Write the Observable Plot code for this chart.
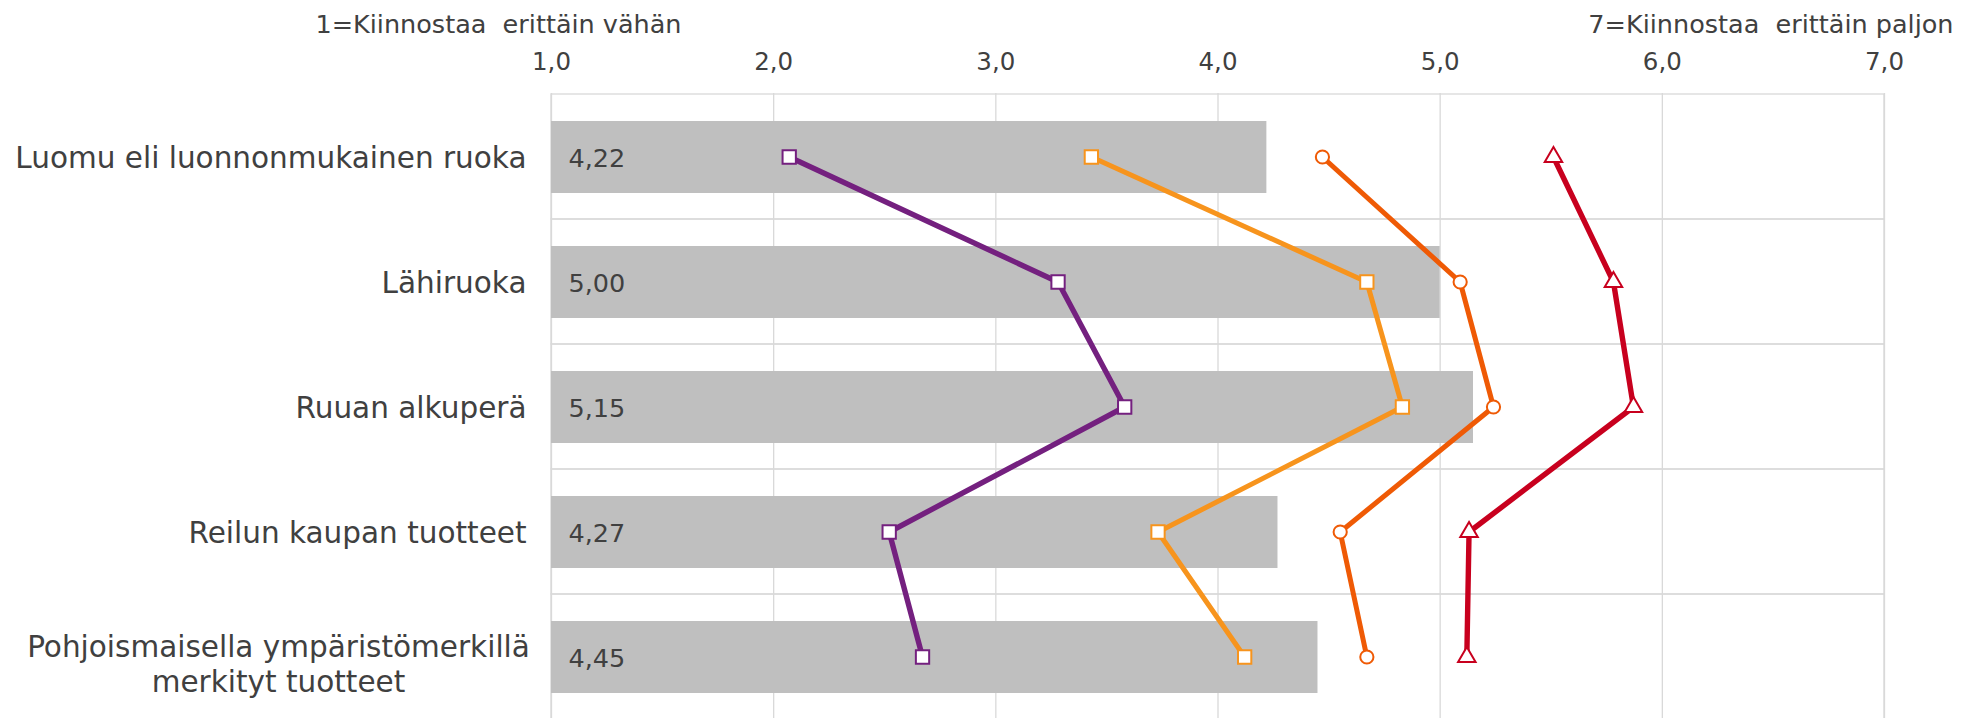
<!DOCTYPE html>
<html>
<head>
<meta charset="utf-8">
<script src="https://cdn.jsdelivr.net/npm/d3@7"></script>
<script src="https://cdn.jsdelivr.net/npm/@observablehq/plot@0.6"></script>
<style>
  html, body { margin: 0; padding: 0; background: #fff; overflow: hidden; }
  svg text { white-space: pre; }
</style>
</head>
<body>
<div id="chart"></div>
<script>
// ---- data ----
const categories = [
  "Luomu eli luonnonmukainen ruoka",
  "Lähiruoka",
  "Ruuan alkuperä",
  "Reilun kaupan tuotteet",
  "Pohjoismaisella ympäristömerkillä\nmerkityt tuotteet"
];
const barValues = [4.22, 5.00, 5.15, 4.27, 4.45];
const seriesNames = ["Sarja 1", "Sarja 2", "Sarja 3", "Sarja 4"];
const series1 = [2.07, 3.28, 3.58, 2.52, 2.67];
const series2 = [3.43, 4.67, 4.83, 3.73, 4.12];
const series3 = [4.47, 5.09, 5.24, 4.55, 4.67];
const series4 = [5.51, 5.78, 5.87, 5.13, 5.12];
const seriesValues = [series1, series2, series3, series4];
const xTicks = [1, 2, 3, 4, 5, 6, 7];
const lowLabel = "1=Kiinnostaa  erittäin vähän";
const highLabel = "7=Kiinnostaa  erittäin paljon";

// ---- styles ----
const seriesColors = ["#74207f", "#f7941d", "#ef5a05", "#c8001e"];
const seriesSymbols = ["square", "square", "circle", "triangle"];
const seriesR = [7.5, 7.5, 6.6, 6.5];
const seriesWidth = [5.4, 5, 5, 5.4];

const fmt1 = d => d.toFixed(1).replace(".", ",");
const fmt2 = d => d.toFixed(2).replace(".", ",");

const bars = categories.map((c, i) => ({cat: c, value: barValues[i]}));
const singleCats = categories.filter(c => !c.includes("\n"));
const multiCats = categories.filter(c => c.includes("\n"));

const seriesMarks = [];
seriesNames.forEach((s, si) => {
  const pts = categories.map((c, i) => ({series: s, cat: c, value: seriesValues[si][i]}));
  seriesMarks.push(Plot.line(pts, {x: "value", y: "cat", stroke: seriesColors[si], strokeWidth: seriesWidth[si], strokeLinejoin: "round"}));
});
seriesNames.forEach((s, si) => {
  const pts = categories.map((c, i) => ({series: s, cat: c, value: seriesValues[si][i]}));
  seriesMarks.push(Plot.dot(pts, {x: "value", y: "cat", symbol: () => seriesSymbols[si], stroke: seriesColors[si], fill: "white", strokeWidth: 2, r: seriesR[si]}));
});

const chart = Plot.plot({
  width: 1964,
  height: 720,
  marginTop: 93,
  marginBottom: 0,
  marginLeft: 551,
  marginRight: 80,
  style: {fontFamily: "'DejaVu Sans', Verdana, sans-serif", fontSize: "25px", color: "#404040", background: "#fff", overflow: "visible"},
  x: {domain: [1, 7], axis: null},
  y: {domain: categories, padding: 0, axis: null},
  symbol: {domain: ["square", "circle", "triangle"], range: ["square", "circle", "triangle"]},
  marks: [
    Plot.barX(categories, {y: d => d, x1: 1, x2: 7, fill: "none", stroke: "#d9d9d9", strokeWidth: 1.3}),
    Plot.ruleX(xTicks, {stroke: "#d9d9d9", strokeWidth: 1.3}),
    Plot.barX(bars, {y: "cat", x1: 1, x2: "value", fill: "#bfbfbf", insetTop: 27, insetBottom: 26}),
    Plot.text(bars, {y: "cat", x: 1, text: d => fmt2(d.value), textAnchor: "start", dx: 17, dy: 2, fontSize: 25.5, fill: "#404040"}),
    ...seriesMarks,
    Plot.axisX(xTicks, {anchor: "top", tickSize: 0, tickPadding: 24, tickFormat: fmt1, label: null, fontSize: 24.5, fill: "#404040"}),
    Plot.text(singleCats, {y: d => d, text: d => d, frameAnchor: "left", textAnchor: "end", dx: -25, dy: 2, fontSize: 29.5, fill: "#404040"}),
    Plot.text(multiCats, {y: d => d, text: d => d, frameAnchor: "left", textAnchor: "middle", dx: -273, dy: 6, fontSize: 29.5, lineHeight: 1.18, fill: "#404040"}),
    Plot.text([lowLabel], {text: d => d, frameAnchor: "top-left", textAnchor: "middle", lineAnchor: "bottom", dx: -53, dy: -61, fontSize: 25.5, fill: "#404040"}),
    Plot.text([highLabel], {text: d => d, frameAnchor: "top-right", textAnchor: "end", lineAnchor: "bottom", dx: 69, dy: -61, fontSize: 25.5, fill: "#404040"})
  ]
});
document.getElementById("chart").appendChild(chart);
</script>
</body>
</html>
